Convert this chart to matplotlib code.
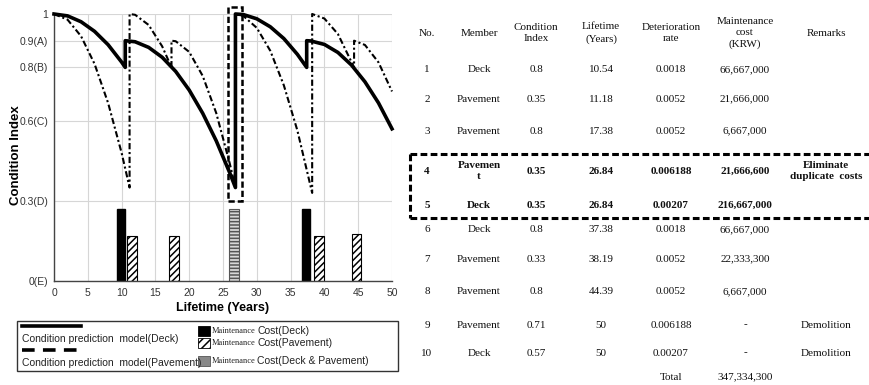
import matplotlib
matplotlib.use('Agg')
import matplotlib.pyplot as plt
from matplotlib.patches import Rectangle
from matplotlib.lines import Line2D

# condition index curves (jumps = repairs)
deck_t = [0, 2, 4, 6, 8, 10, 10.54,
          10.54, 12, 14, 16, 18, 20, 22, 24, 26, 26.84,
          26.84, 28, 30, 32, 34, 36, 37.38,
          37.38, 38, 40, 42, 44, 46, 48, 50]
deck_ci = [1.0, 0.993, 0.971, 0.935, 0.885, 0.82, 0.80,
           0.9, 0.896, 0.875, 0.838, 0.785, 0.715, 0.628, 0.525, 0.405, 0.35,
           1.0, 0.998, 0.982, 0.952, 0.908, 0.849, 0.80,
           0.9, 0.899, 0.886, 0.856, 0.809, 0.746, 0.667, 0.57]

pave_t = [0, 2, 4, 6, 8, 10, 11.18,
          11.18, 12, 14, 16, 17.38,
          17.38, 18, 20, 22, 24, 26, 26.84,
          26.84, 28, 30, 32, 34, 36, 38.19,
          38.19, 40, 42, 44.39,
          44.39, 46, 48, 50]
pave_ci = [1.0, 0.979, 0.917, 0.813, 0.667, 0.48, 0.35,
           1.0, 0.997, 0.959, 0.879, 0.80,
           0.9, 0.898, 0.858, 0.768, 0.629, 0.44, 0.35,
           1.0, 0.993, 0.948, 0.862, 0.733, 0.564, 0.33,
           1.0, 0.983, 0.925, 0.80,
           0.9, 0.884, 0.819, 0.71]

# maintenance cost bars
deck_bar_x = [9.9, 37.25]
deck_bar_h = [0.27, 0.27]
pave_bar_x = [11.55, 17.7, 39.25, 44.75]
pave_bar_h = [0.17, 0.17, 0.17, 0.175]
both_bar_x = [26.65]
both_bar_h = [0.27]

y_ticks = [0, 0.3, 0.6, 0.8, 0.9, 1]
y_ticklabels = ['0(E)', '0.3(D)', '0.6(C)', '0.8(B)', '0.9(A)', '1']

# table
headers = ['No.', 'Member', 'Condition\nIndex', 'Lifetime\n(Years)',
           'Deterioration\nrate', 'Maintenance\ncost\n(KRW)', 'Remarks']
nos = ['1', '2', '3', '4', '5', '6', '7', '8', '9', '10']
members = ['Deck', 'Pavement', 'Pavement', 'Pavemen\nt', 'Deck', 'Deck',
           'Pavement', 'Pavement', 'Pavement', 'Deck']
cond_idx = ['0.8', '0.35', '0.8', '0.35', '0.35', '0.8', '0.33', '0.8', '0.71', '0.57']
lifetimes = ['10.54', '11.18', '17.38', '26.84', '26.84', '37.38', '38.19', '44.39', '50', '50']
det_rates = ['0.0018', '0.0052', '0.0052', '0.006188', '0.00207', '0.0018',
             '0.0052', '0.0052', '0.006188', '0.00207']
costs = ['66,667,000', '21,666,000', '6,667,000', '21,666,600', '216,667,000',
         '66,667,000', '22,333,300', '6,667,000', '-', '-']
remarks = ['', '', '', 'Eliminate\nduplicate  costs', '', '', '', '',
           'Demolition', 'Demolition']
total_cost = '347,334,300'
bold_rows = [3, 4]

W, H = 869, 385
fig = plt.figure(figsize=(W / 100, H / 100), dpi=100)
plt.rcParams['hatch.linewidth'] = 1.1

ax = fig.add_axes([54 / W, 104 / H, 338 / W, 267 / H])
ax.bar(deck_bar_x, deck_bar_h, width=1.25, color='black', edgecolor='black', zorder=2)
ax.bar(pave_bar_x, pave_bar_h, width=1.45, color='white', edgecolor='black',
       hatch='/////', linewidth=0.8, zorder=2)
ax.bar(both_bar_x, both_bar_h, width=1.45, color='#d8d8d8', edgecolor='#555555',
       hatch='-----', linewidth=0.8, zorder=2)

ax.plot(deck_t, deck_ci, color='black', lw=2.6, clip_on=False, zorder=4)
ax.plot(pave_t, pave_ci, color='black', lw=1.5, ls=(0, (3, 1.3, 1, 1.3)),
        clip_on=False, zorder=4)

# highlight box around the duplicated repair
ax.add_patch(Rectangle((25.7, 0.298), 2.15, 0.73, fill=False, ec='black', lw=1.8,
                       ls=(0, (2.5, 1.2)), clip_on=False, zorder=5))

ax.set_xlim(0, 50)
ax.set_ylim(0, 1)
ax.set_xticks(range(0, 51, 5))
ax.set_yticks(y_ticks)
ax.set_yticklabels(y_ticklabels)
ax.tick_params(length=0, labelsize=7.5, colors='#333333')
ax.tick_params(axis='x', pad=5)
ax.tick_params(axis='y', pad=4)
for lab in ax.get_xticklabels() + ax.get_yticklabels():
    lab.set_family('Liberation Sans')
ax.grid(color='#d6d6d6', lw=0.8, zorder=0)
ax.set_axisbelow(True)
for s in ['top', 'right']:
    ax.spines[s].set_visible(False)
for s in ['left', 'bottom']:
    ax.spines[s].set_color('#444444')
    ax.spines[s].set_linewidth(1.0)
ax.set_xlabel('Lifetime (Years)', fontsize=9, fontweight='bold', family='Liberation Sans')
ax.set_ylabel('Condition Index', fontsize=9.5, fontweight='bold', family='Liberation Sans')
ax.xaxis.set_label_coords(0.5, -0.08)
ax.yaxis.set_label_coords(-0.095, 0.47)

# overlay in pixel coordinates for legend and table
ov = fig.add_axes([0, 0, 1, 1], zorder=-1)
ov.set_xlim(0, W)
ov.set_ylim(H, 0)
ov.axis('off')

# legend box
ov.add_patch(Rectangle((17, 321), 381, 50, fill=False, ec='#333333', lw=1.0))
ov.add_line(Line2D([22, 81], [326, 326], color='black', lw=2.6))
ov.add_line(Line2D([22, 81], [350, 350], color='black', lw=2.6, ls=(0, (3.5, 2.3))))
leg_kw = dict(fontsize=7.5, family='Liberation Sans', va='center', ha='left', color='#222222')
ov.text(22, 339, 'Condition prediction  model(Deck)', **leg_kw)
ov.text(22, 363, 'Condition prediction  model(Pavement)', **leg_kw)
ov.add_patch(Rectangle((198, 326), 12, 10, fc='black', ec='black', lw=0.6))
ov.add_patch(Rectangle((198, 338), 12, 10, fc='white', ec='black', hatch='////', lw=0.6))
ov.add_patch(Rectangle((198, 356), 12, 10, fc='#888888', ec='#555555', lw=0.6))
for yy, lbl in zip([331, 343, 361], ['Cost(Deck)', 'Cost(Pavement)', 'Cost(Deck & Pavement)']):
    ov.text(212, yy, 'Maintenance', fontsize=6, family='Liberation Serif',
            va='center', ha='left', color='#222222')
    ov.text(257, yy, lbl, **leg_kw)

# table
col_x = [427, 479, 536, 601, 671, 745, 826]
header_y = 33
row_y = [70, 99, 131, 171, 205, 230, 259, 292, 325, 353]
tkw = dict(fontsize=8, family='Liberation Serif', ha='center', va='center',
           color='#111111', linespacing=1.35)
for x, h in zip(col_x, headers):
    ov.text(x, header_y, h, **tkw)
for i, y in enumerate(row_y):
    fw = 'bold' if i in bold_rows else 'normal'
    vals = [nos[i], members[i], cond_idx[i], lifetimes[i], det_rates[i], costs[i], remarks[i]]
    for x, v in zip(col_x, vals):
        if v:
            ov.text(x, y, v, fontweight=fw, **tkw)
ov.text(col_x[4], 377, 'Total', **tkw)
ov.text(col_x[5], 377, total_cost, **tkw)

# dashed highlight around rows 4 and 5
dash = dict(color='black', lw=2.2, ls=(0, (2.2, 1.1)))
ov.add_line(Line2D([410, 869], [154, 154], **dash))
ov.add_line(Line2D([410, 869], [218, 218], **dash))
ov.add_line(Line2D([410, 410], [154, 218], **dash))

fig.savefig('out.png', dpi=100)
